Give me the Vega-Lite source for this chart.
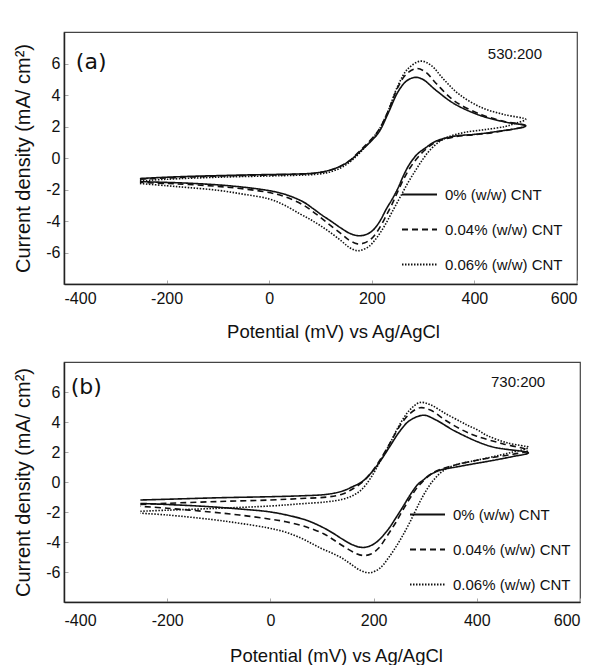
{
"$schema":"https://vega.github.io/schema/vega-lite/v6.json",
"background":"white",
"padding":{"left":13,"top":31,"right":0,"bottom":0},
"spacing":19,
"config":{
 "font":"Liberation Sans",
 "view":{"stroke":"#444","strokeWidth":1.2},
 "axis":{"grid":false,"domainColor":"#222","domainWidth":1.5,"tickColor":"#aaa","tickSize":-4,"labelFont":"Liberation Sans","labelFontSize":16,"labelColor":"#111","titleColor":"#111","titleFontWeight":"normal","titleFont":"Liberation Sans","labelOverlap":false,"labelExpr":"'' + datum.value"},
 "axisX":{"labelPadding":10,"titlePadding":16,"titleFontSize":18.5},
 "axisY":{"labelPadding":8,"titlePadding":12,"titleFontSize":20,"labelOverlap":false},
 "legend":{"symbolType":"stroke","symbolSize":1225,"symbolStrokeWidth":1.8,"symbolStrokeColor":"#111","labelFont":"Liberation Sans","labelFontSize":15,"labelColor":"#111","labelOffset":7,"rowPadding":8,"padding":0,"title":null}
},
"datasets":{
 "ann":[
  {"p":"a","t":"(a)","x":-347,"y":6.1,"k":"big"},
  {"p":"a","t":"530:200","x":479,"y":6.6,"k":"small"},
  {"p":"b","t":"(b)","x":-357,"y":6.33,"k":"big"},
  {"p":"b","t":"730:200","x":480,"y":6.67,"k":"small"}
 ],
 "cv":[
{"p":"a","s":"0% (w/w) CNT","i":1,"x":-252,"y":-1.3},
{"p":"a","s":"0% (w/w) CNT","i":2,"x":-200,"y":-1.22},
{"p":"a","s":"0% (w/w) CNT","i":3,"x":-150,"y":-1.16},
{"p":"a","s":"0% (w/w) CNT","i":4,"x":-100,"y":-1.12},
{"p":"a","s":"0% (w/w) CNT","i":5,"x":-50,"y":-1.08},
{"p":"a","s":"0% (w/w) CNT","i":6,"x":0,"y":-1.05},
{"p":"a","s":"0% (w/w) CNT","i":7,"x":50,"y":-1.02},
{"p":"a","s":"0% (w/w) CNT","i":8,"x":90,"y":-0.95},
{"p":"a","s":"0% (w/w) CNT","i":9,"x":117,"y":-0.78},
{"p":"a","s":"0% (w/w) CNT","i":10,"x":140,"y":-0.5},
{"p":"a","s":"0% (w/w) CNT","i":11,"x":160,"y":-0.1},
{"p":"a","s":"0% (w/w) CNT","i":12,"x":175,"y":0.35},
{"p":"a","s":"0% (w/w) CNT","i":13,"x":195,"y":0.95},
{"p":"a","s":"0% (w/w) CNT","i":14,"x":214,"y":1.65},
{"p":"a","s":"0% (w/w) CNT","i":15,"x":232,"y":2.85},
{"p":"a","s":"0% (w/w) CNT","i":16,"x":251,"y":4.2},
{"p":"a","s":"0% (w/w) CNT","i":17,"x":268,"y":4.9},
{"p":"a","s":"0% (w/w) CNT","i":18,"x":285,"y":5.12},
{"p":"a","s":"0% (w/w) CNT","i":19,"x":300,"y":4.98},
{"p":"a","s":"0% (w/w) CNT","i":20,"x":325,"y":4.3},
{"p":"a","s":"0% (w/w) CNT","i":21,"x":362,"y":3.42},
{"p":"a","s":"0% (w/w) CNT","i":22,"x":414,"y":2.67},
{"p":"a","s":"0% (w/w) CNT","i":23,"x":459,"y":2.29},
{"p":"a","s":"0% (w/w) CNT","i":24,"x":500,"y":2.03},
{"p":"a","s":"0% (w/w) CNT","i":25,"x":437,"y":1.65},
{"p":"a","s":"0% (w/w) CNT","i":26,"x":400,"y":1.5},
{"p":"a","s":"0% (w/w) CNT","i":27,"x":362,"y":1.39},
{"p":"a","s":"0% (w/w) CNT","i":28,"x":325,"y":1.07},
{"p":"a","s":"0% (w/w) CNT","i":29,"x":305,"y":0.65},
{"p":"a","s":"0% (w/w) CNT","i":30,"x":288,"y":0.22},
{"p":"a","s":"0% (w/w) CNT","i":31,"x":273,"y":-0.42},
{"p":"a","s":"0% (w/w) CNT","i":32,"x":262,"y":-1.1},
{"p":"a","s":"0% (w/w) CNT","i":33,"x":251,"y":-1.92},
{"p":"a","s":"0% (w/w) CNT","i":34,"x":240,"y":-2.6},
{"p":"a","s":"0% (w/w) CNT","i":35,"x":229,"y":-3.2},
{"p":"a","s":"0% (w/w) CNT","i":36,"x":214,"y":-4.1},
{"p":"a","s":"0% (w/w) CNT","i":37,"x":200,"y":-4.65},
{"p":"a","s":"0% (w/w) CNT","i":38,"x":185,"y":-4.9},
{"p":"a","s":"0% (w/w) CNT","i":39,"x":170,"y":-4.92},
{"p":"a","s":"0% (w/w) CNT","i":40,"x":155,"y":-4.75},
{"p":"a","s":"0% (w/w) CNT","i":41,"x":140,"y":-4.45},
{"p":"a","s":"0% (w/w) CNT","i":42,"x":120,"y":-4.0},
{"p":"a","s":"0% (w/w) CNT","i":43,"x":103,"y":-3.63},
{"p":"a","s":"0% (w/w) CNT","i":44,"x":85,"y":-3.2},
{"p":"a","s":"0% (w/w) CNT","i":45,"x":66,"y":-2.78},
{"p":"a","s":"0% (w/w) CNT","i":46,"x":30,"y":-2.3},
{"p":"a","s":"0% (w/w) CNT","i":47,"x":-8,"y":-2.03},
{"p":"a","s":"0% (w/w) CNT","i":48,"x":-83,"y":-1.75},
{"p":"a","s":"0% (w/w) CNT","i":49,"x":-157,"y":-1.6},
{"p":"a","s":"0% (w/w) CNT","i":50,"x":-200,"y":-1.55},
{"p":"a","s":"0% (w/w) CNT","i":51,"x":-252,"y":-1.5},
{"p":"a","s":"0.04% (w/w) CNT","i":1,"x":-252,"y":-1.35},
{"p":"a","s":"0.04% (w/w) CNT","i":2,"x":-200,"y":-1.27},
{"p":"a","s":"0.04% (w/w) CNT","i":3,"x":-100,"y":-1.15},
{"p":"a","s":"0.04% (w/w) CNT","i":4,"x":0,"y":-1.08},
{"p":"a","s":"0.04% (w/w) CNT","i":5,"x":50,"y":-1.04},
{"p":"a","s":"0.04% (w/w) CNT","i":6,"x":90,"y":-0.97},
{"p":"a","s":"0.04% (w/w) CNT","i":7,"x":117,"y":-0.8},
{"p":"a","s":"0.04% (w/w) CNT","i":8,"x":140,"y":-0.5},
{"p":"a","s":"0.04% (w/w) CNT","i":9,"x":160,"y":-0.08},
{"p":"a","s":"0.04% (w/w) CNT","i":10,"x":175,"y":0.4},
{"p":"a","s":"0.04% (w/w) CNT","i":11,"x":195,"y":1.05},
{"p":"a","s":"0.04% (w/w) CNT","i":12,"x":214,"y":1.8},
{"p":"a","s":"0.04% (w/w) CNT","i":13,"x":232,"y":3.0},
{"p":"a","s":"0.04% (w/w) CNT","i":14,"x":251,"y":4.5},
{"p":"a","s":"0.04% (w/w) CNT","i":15,"x":268,"y":5.35},
{"p":"a","s":"0.04% (w/w) CNT","i":16,"x":288,"y":5.68},
{"p":"a","s":"0.04% (w/w) CNT","i":17,"x":305,"y":5.45},
{"p":"a","s":"0.04% (w/w) CNT","i":18,"x":325,"y":4.75},
{"p":"a","s":"0.04% (w/w) CNT","i":19,"x":362,"y":3.6},
{"p":"a","s":"0.04% (w/w) CNT","i":20,"x":414,"y":2.75},
{"p":"a","s":"0.04% (w/w) CNT","i":21,"x":459,"y":2.32},
{"p":"a","s":"0.04% (w/w) CNT","i":22,"x":500,"y":2.06},
{"p":"a","s":"0.04% (w/w) CNT","i":23,"x":437,"y":1.62},
{"p":"a","s":"0.04% (w/w) CNT","i":24,"x":400,"y":1.48},
{"p":"a","s":"0.04% (w/w) CNT","i":25,"x":362,"y":1.35},
{"p":"a","s":"0.04% (w/w) CNT","i":26,"x":325,"y":1.0},
{"p":"a","s":"0.04% (w/w) CNT","i":27,"x":305,"y":0.55},
{"p":"a","s":"0.04% (w/w) CNT","i":28,"x":290,"y":0.05},
{"p":"a","s":"0.04% (w/w) CNT","i":29,"x":275,"y":-0.6},
{"p":"a","s":"0.04% (w/w) CNT","i":30,"x":262,"y":-1.35},
{"p":"a","s":"0.04% (w/w) CNT","i":31,"x":251,"y":-2.1},
{"p":"a","s":"0.04% (w/w) CNT","i":32,"x":240,"y":-2.9},
{"p":"a","s":"0.04% (w/w) CNT","i":33,"x":229,"y":-3.6},
{"p":"a","s":"0.04% (w/w) CNT","i":34,"x":214,"y":-4.5},
{"p":"a","s":"0.04% (w/w) CNT","i":35,"x":200,"y":-5.1},
{"p":"a","s":"0.04% (w/w) CNT","i":36,"x":185,"y":-5.4},
{"p":"a","s":"0.04% (w/w) CNT","i":37,"x":172,"y":-5.45},
{"p":"a","s":"0.04% (w/w) CNT","i":38,"x":155,"y":-5.2},
{"p":"a","s":"0.04% (w/w) CNT","i":39,"x":140,"y":-4.8},
{"p":"a","s":"0.04% (w/w) CNT","i":40,"x":120,"y":-4.3},
{"p":"a","s":"0.04% (w/w) CNT","i":41,"x":103,"y":-3.85},
{"p":"a","s":"0.04% (w/w) CNT","i":42,"x":85,"y":-3.4},
{"p":"a","s":"0.04% (w/w) CNT","i":43,"x":66,"y":-2.98},
{"p":"a","s":"0.04% (w/w) CNT","i":44,"x":30,"y":-2.45},
{"p":"a","s":"0.04% (w/w) CNT","i":45,"x":-8,"y":-2.15},
{"p":"a","s":"0.04% (w/w) CNT","i":46,"x":-83,"y":-1.85},
{"p":"a","s":"0.04% (w/w) CNT","i":47,"x":-157,"y":-1.68},
{"p":"a","s":"0.04% (w/w) CNT","i":48,"x":-200,"y":-1.62},
{"p":"a","s":"0.04% (w/w) CNT","i":49,"x":-252,"y":-1.55},
{"p":"a","s":"0.06% (w/w) CNT","i":1,"x":-252,"y":-1.45},
{"p":"a","s":"0.06% (w/w) CNT","i":2,"x":-200,"y":-1.35},
{"p":"a","s":"0.06% (w/w) CNT","i":3,"x":-100,"y":-1.22},
{"p":"a","s":"0.06% (w/w) CNT","i":4,"x":0,"y":-1.14},
{"p":"a","s":"0.06% (w/w) CNT","i":5,"x":50,"y":-1.1},
{"p":"a","s":"0.06% (w/w) CNT","i":6,"x":90,"y":-1.04},
{"p":"a","s":"0.06% (w/w) CNT","i":7,"x":117,"y":-0.9},
{"p":"a","s":"0.06% (w/w) CNT","i":8,"x":140,"y":-0.62},
{"p":"a","s":"0.06% (w/w) CNT","i":9,"x":160,"y":-0.18},
{"p":"a","s":"0.06% (w/w) CNT","i":10,"x":175,"y":0.28},
{"p":"a","s":"0.06% (w/w) CNT","i":11,"x":195,"y":1.0},
{"p":"a","s":"0.06% (w/w) CNT","i":12,"x":214,"y":1.8},
{"p":"a","s":"0.06% (w/w) CNT","i":13,"x":232,"y":3.0},
{"p":"a","s":"0.06% (w/w) CNT","i":14,"x":251,"y":4.6},
{"p":"a","s":"0.06% (w/w) CNT","i":15,"x":270,"y":5.65},
{"p":"a","s":"0.06% (w/w) CNT","i":16,"x":295,"y":6.15},
{"p":"a","s":"0.06% (w/w) CNT","i":17,"x":315,"y":5.9},
{"p":"a","s":"0.06% (w/w) CNT","i":18,"x":340,"y":5.0},
{"p":"a","s":"0.06% (w/w) CNT","i":19,"x":370,"y":4.05},
{"p":"a","s":"0.06% (w/w) CNT","i":20,"x":414,"y":3.2},
{"p":"a","s":"0.06% (w/w) CNT","i":21,"x":459,"y":2.75},
{"p":"a","s":"0.06% (w/w) CNT","i":22,"x":500,"y":2.45},
{"p":"a","s":"0.06% (w/w) CNT","i":23,"x":480,"y":2.2},
{"p":"a","s":"0.06% (w/w) CNT","i":24,"x":460,"y":2.0},
{"p":"a","s":"0.06% (w/w) CNT","i":25,"x":420,"y":1.8},
{"p":"a","s":"0.06% (w/w) CNT","i":26,"x":380,"y":1.62},
{"p":"a","s":"0.06% (w/w) CNT","i":27,"x":350,"y":1.35},
{"p":"a","s":"0.06% (w/w) CNT","i":28,"x":330,"y":1.0},
{"p":"a","s":"0.06% (w/w) CNT","i":29,"x":312,"y":0.45},
{"p":"a","s":"0.06% (w/w) CNT","i":30,"x":298,"y":-0.15},
{"p":"a","s":"0.06% (w/w) CNT","i":31,"x":285,"y":-0.8},
{"p":"a","s":"0.06% (w/w) CNT","i":32,"x":270,"y":-1.6},
{"p":"a","s":"0.06% (w/w) CNT","i":33,"x":255,"y":-2.5},
{"p":"a","s":"0.06% (w/w) CNT","i":34,"x":240,"y":-3.4},
{"p":"a","s":"0.06% (w/w) CNT","i":35,"x":225,"y":-4.3},
{"p":"a","s":"0.06% (w/w) CNT","i":36,"x":210,"y":-5.05},
{"p":"a","s":"0.06% (w/w) CNT","i":37,"x":195,"y":-5.6},
{"p":"a","s":"0.06% (w/w) CNT","i":38,"x":180,"y":-5.85},
{"p":"a","s":"0.06% (w/w) CNT","i":39,"x":170,"y":-5.88},
{"p":"a","s":"0.06% (w/w) CNT","i":40,"x":155,"y":-5.65},
{"p":"a","s":"0.06% (w/w) CNT","i":41,"x":140,"y":-5.25},
{"p":"a","s":"0.06% (w/w) CNT","i":42,"x":120,"y":-4.75},
{"p":"a","s":"0.06% (w/w) CNT","i":43,"x":100,"y":-4.3},
{"p":"a","s":"0.06% (w/w) CNT","i":44,"x":80,"y":-3.9},
{"p":"a","s":"0.06% (w/w) CNT","i":45,"x":60,"y":-3.55},
{"p":"a","s":"0.06% (w/w) CNT","i":46,"x":30,"y":-3.0},
{"p":"a","s":"0.06% (w/w) CNT","i":47,"x":0,"y":-2.6},
{"p":"a","s":"0.06% (w/w) CNT","i":48,"x":-50,"y":-2.3},
{"p":"a","s":"0.06% (w/w) CNT","i":49,"x":-100,"y":-2.05},
{"p":"a","s":"0.06% (w/w) CNT","i":50,"x":-157,"y":-1.88},
{"p":"a","s":"0.06% (w/w) CNT","i":51,"x":-200,"y":-1.76},
{"p":"a","s":"0.06% (w/w) CNT","i":52,"x":-252,"y":-1.62},
{"p":"b","s":"0% (w/w) CNT","i":1,"x":-252,"y":-1.2},
{"p":"b","s":"0% (w/w) CNT","i":2,"x":-200,"y":-1.15},
{"p":"b","s":"0% (w/w) CNT","i":3,"x":-100,"y":-1.05},
{"p":"b","s":"0% (w/w) CNT","i":4,"x":0,"y":-0.98},
{"p":"b","s":"0% (w/w) CNT","i":5,"x":60,"y":-0.92},
{"p":"b","s":"0% (w/w) CNT","i":6,"x":110,"y":-0.82},
{"p":"b","s":"0% (w/w) CNT","i":7,"x":140,"y":-0.6},
{"p":"b","s":"0% (w/w) CNT","i":8,"x":160,"y":-0.3},
{"p":"b","s":"0% (w/w) CNT","i":9,"x":177,"y":0.0},
{"p":"b","s":"0% (w/w) CNT","i":10,"x":195,"y":0.6},
{"p":"b","s":"0% (w/w) CNT","i":11,"x":213,"y":1.4},
{"p":"b","s":"0% (w/w) CNT","i":12,"x":232,"y":2.4},
{"p":"b","s":"0% (w/w) CNT","i":13,"x":250,"y":3.35},
{"p":"b","s":"0% (w/w) CNT","i":14,"x":270,"y":4.1},
{"p":"b","s":"0% (w/w) CNT","i":15,"x":297,"y":4.45},
{"p":"b","s":"0% (w/w) CNT","i":16,"x":320,"y":4.15},
{"p":"b","s":"0% (w/w) CNT","i":17,"x":360,"y":3.35},
{"p":"b","s":"0% (w/w) CNT","i":18,"x":426,"y":2.38},
{"p":"b","s":"0% (w/w) CNT","i":19,"x":500,"y":1.94},
{"p":"b","s":"0% (w/w) CNT","i":20,"x":470,"y":1.7},
{"p":"b","s":"0% (w/w) CNT","i":21,"x":433,"y":1.45},
{"p":"b","s":"0% (w/w) CNT","i":22,"x":400,"y":1.25},
{"p":"b","s":"0% (w/w) CNT","i":23,"x":360,"y":1.0},
{"p":"b","s":"0% (w/w) CNT","i":24,"x":330,"y":0.8},
{"p":"b","s":"0% (w/w) CNT","i":25,"x":308,"y":0.45},
{"p":"b","s":"0% (w/w) CNT","i":26,"x":295,"y":0.1},
{"p":"b","s":"0% (w/w) CNT","i":27,"x":286,"y":-0.15},
{"p":"b","s":"0% (w/w) CNT","i":28,"x":272,"y":-0.8},
{"p":"b","s":"0% (w/w) CNT","i":29,"x":257,"y":-1.64},
{"p":"b","s":"0% (w/w) CNT","i":30,"x":243,"y":-2.4},
{"p":"b","s":"0% (w/w) CNT","i":31,"x":228,"y":-3.17},
{"p":"b","s":"0% (w/w) CNT","i":32,"x":206,"y":-4.0},
{"p":"b","s":"0% (w/w) CNT","i":33,"x":190,"y":-4.3},
{"p":"b","s":"0% (w/w) CNT","i":34,"x":177,"y":-4.36},
{"p":"b","s":"0% (w/w) CNT","i":35,"x":160,"y":-4.2},
{"p":"b","s":"0% (w/w) CNT","i":36,"x":140,"y":-3.82},
{"p":"b","s":"0% (w/w) CNT","i":37,"x":120,"y":-3.38},
{"p":"b","s":"0% (w/w) CNT","i":38,"x":100,"y":-3.0},
{"p":"b","s":"0% (w/w) CNT","i":39,"x":70,"y":-2.55},
{"p":"b","s":"0% (w/w) CNT","i":40,"x":30,"y":-2.19},
{"p":"b","s":"0% (w/w) CNT","i":41,"x":-6,"y":-1.97},
{"p":"b","s":"0% (w/w) CNT","i":42,"x":-60,"y":-1.8},
{"p":"b","s":"0% (w/w) CNT","i":43,"x":-116,"y":-1.65},
{"p":"b","s":"0% (w/w) CNT","i":44,"x":-200,"y":-1.5},
{"p":"b","s":"0% (w/w) CNT","i":45,"x":-252,"y":-1.43},
{"p":"b","s":"0.04% (w/w) CNT","i":1,"x":-252,"y":-1.5},
{"p":"b","s":"0.04% (w/w) CNT","i":2,"x":-200,"y":-1.42},
{"p":"b","s":"0.04% (w/w) CNT","i":3,"x":-100,"y":-1.3},
{"p":"b","s":"0.04% (w/w) CNT","i":4,"x":0,"y":-1.2},
{"p":"b","s":"0.04% (w/w) CNT","i":5,"x":60,"y":-1.1},
{"p":"b","s":"0.04% (w/w) CNT","i":6,"x":110,"y":-1.0},
{"p":"b","s":"0.04% (w/w) CNT","i":7,"x":140,"y":-0.8},
{"p":"b","s":"0.04% (w/w) CNT","i":8,"x":160,"y":-0.45},
{"p":"b","s":"0.04% (w/w) CNT","i":9,"x":177,"y":-0.05},
{"p":"b","s":"0.04% (w/w) CNT","i":10,"x":195,"y":0.6},
{"p":"b","s":"0.04% (w/w) CNT","i":11,"x":213,"y":1.5},
{"p":"b","s":"0.04% (w/w) CNT","i":12,"x":232,"y":2.6},
{"p":"b","s":"0.04% (w/w) CNT","i":13,"x":250,"y":3.7},
{"p":"b","s":"0.04% (w/w) CNT","i":14,"x":270,"y":4.55},
{"p":"b","s":"0.04% (w/w) CNT","i":15,"x":290,"y":4.95},
{"p":"b","s":"0.04% (w/w) CNT","i":16,"x":310,"y":4.8},
{"p":"b","s":"0.04% (w/w) CNT","i":17,"x":340,"y":4.1},
{"p":"b","s":"0.04% (w/w) CNT","i":18,"x":370,"y":3.5},
{"p":"b","s":"0.04% (w/w) CNT","i":19,"x":400,"y":3.05},
{"p":"b","s":"0.04% (w/w) CNT","i":20,"x":450,"y":2.55},
{"p":"b","s":"0.04% (w/w) CNT","i":21,"x":500,"y":2.1},
{"p":"b","s":"0.04% (w/w) CNT","i":22,"x":470,"y":1.85},
{"p":"b","s":"0.04% (w/w) CNT","i":23,"x":433,"y":1.65},
{"p":"b","s":"0.04% (w/w) CNT","i":24,"x":400,"y":1.45},
{"p":"b","s":"0.04% (w/w) CNT","i":25,"x":360,"y":1.15},
{"p":"b","s":"0.04% (w/w) CNT","i":26,"x":330,"y":0.85},
{"p":"b","s":"0.04% (w/w) CNT","i":27,"x":310,"y":0.5},
{"p":"b","s":"0.04% (w/w) CNT","i":28,"x":296,"y":0.05},
{"p":"b","s":"0.04% (w/w) CNT","i":29,"x":286,"y":-0.3},
{"p":"b","s":"0.04% (w/w) CNT","i":30,"x":272,"y":-1.0},
{"p":"b","s":"0.04% (w/w) CNT","i":31,"x":257,"y":-1.85},
{"p":"b","s":"0.04% (w/w) CNT","i":32,"x":243,"y":-2.7},
{"p":"b","s":"0.04% (w/w) CNT","i":33,"x":228,"y":-3.5},
{"p":"b","s":"0.04% (w/w) CNT","i":34,"x":210,"y":-4.4},
{"p":"b","s":"0.04% (w/w) CNT","i":35,"x":195,"y":-4.8},
{"p":"b","s":"0.04% (w/w) CNT","i":36,"x":180,"y":-4.9},
{"p":"b","s":"0.04% (w/w) CNT","i":37,"x":165,"y":-4.75},
{"p":"b","s":"0.04% (w/w) CNT","i":38,"x":140,"y":-4.25},
{"p":"b","s":"0.04% (w/w) CNT","i":39,"x":120,"y":-3.8},
{"p":"b","s":"0.04% (w/w) CNT","i":40,"x":103,"y":-3.45},
{"p":"b","s":"0.04% (w/w) CNT","i":41,"x":70,"y":-3.0},
{"p":"b","s":"0.04% (w/w) CNT","i":42,"x":30,"y":-2.65},
{"p":"b","s":"0.04% (w/w) CNT","i":43,"x":-6,"y":-2.45},
{"p":"b","s":"0.04% (w/w) CNT","i":44,"x":-60,"y":-2.2},
{"p":"b","s":"0.04% (w/w) CNT","i":45,"x":-116,"y":-2.0},
{"p":"b","s":"0.04% (w/w) CNT","i":46,"x":-200,"y":-1.75},
{"p":"b","s":"0.04% (w/w) CNT","i":47,"x":-252,"y":-1.62},
{"p":"b","s":"0.06% (w/w) CNT","i":1,"x":-252,"y":-1.95},
{"p":"b","s":"0.06% (w/w) CNT","i":2,"x":-200,"y":-1.88},
{"p":"b","s":"0.06% (w/w) CNT","i":3,"x":-100,"y":-1.75},
{"p":"b","s":"0.06% (w/w) CNT","i":4,"x":0,"y":-1.6},
{"p":"b","s":"0.06% (w/w) CNT","i":5,"x":60,"y":-1.45},
{"p":"b","s":"0.06% (w/w) CNT","i":6,"x":110,"y":-1.32},
{"p":"b","s":"0.06% (w/w) CNT","i":7,"x":140,"y":-1.15},
{"p":"b","s":"0.06% (w/w) CNT","i":8,"x":160,"y":-0.9},
{"p":"b","s":"0.06% (w/w) CNT","i":9,"x":177,"y":-0.5},
{"p":"b","s":"0.06% (w/w) CNT","i":10,"x":195,"y":0.3},
{"p":"b","s":"0.06% (w/w) CNT","i":11,"x":213,"y":1.4},
{"p":"b","s":"0.06% (w/w) CNT","i":12,"x":232,"y":2.6},
{"p":"b","s":"0.06% (w/w) CNT","i":13,"x":250,"y":3.8},
{"p":"b","s":"0.06% (w/w) CNT","i":14,"x":270,"y":4.8},
{"p":"b","s":"0.06% (w/w) CNT","i":15,"x":290,"y":5.3},
{"p":"b","s":"0.06% (w/w) CNT","i":16,"x":310,"y":5.15},
{"p":"b","s":"0.06% (w/w) CNT","i":17,"x":340,"y":4.55},
{"p":"b","s":"0.06% (w/w) CNT","i":18,"x":370,"y":4.0},
{"p":"b","s":"0.06% (w/w) CNT","i":19,"x":384,"y":3.75},
{"p":"b","s":"0.06% (w/w) CNT","i":20,"x":400,"y":3.5},
{"p":"b","s":"0.06% (w/w) CNT","i":21,"x":420,"y":3.1},
{"p":"b","s":"0.06% (w/w) CNT","i":22,"x":460,"y":2.6},
{"p":"b","s":"0.06% (w/w) CNT","i":23,"x":500,"y":2.3},
{"p":"b","s":"0.06% (w/w) CNT","i":24,"x":470,"y":2.0},
{"p":"b","s":"0.06% (w/w) CNT","i":25,"x":433,"y":1.7},
{"p":"b","s":"0.06% (w/w) CNT","i":26,"x":400,"y":1.45},
{"p":"b","s":"0.06% (w/w) CNT","i":27,"x":360,"y":1.15},
{"p":"b","s":"0.06% (w/w) CNT","i":28,"x":335,"y":0.75},
{"p":"b","s":"0.06% (w/w) CNT","i":29,"x":318,"y":0.2},
{"p":"b","s":"0.06% (w/w) CNT","i":30,"x":305,"y":-0.4},
{"p":"b","s":"0.06% (w/w) CNT","i":31,"x":290,"y":-1.3},
{"p":"b","s":"0.06% (w/w) CNT","i":32,"x":270,"y":-2.7},
{"p":"b","s":"0.06% (w/w) CNT","i":33,"x":250,"y":-3.95},
{"p":"b","s":"0.06% (w/w) CNT","i":34,"x":230,"y":-5.0},
{"p":"b","s":"0.06% (w/w) CNT","i":35,"x":212,"y":-5.75},
{"p":"b","s":"0.06% (w/w) CNT","i":36,"x":193,"y":-6.05},
{"p":"b","s":"0.06% (w/w) CNT","i":37,"x":175,"y":-5.9},
{"p":"b","s":"0.06% (w/w) CNT","i":38,"x":155,"y":-5.45},
{"p":"b","s":"0.06% (w/w) CNT","i":39,"x":140,"y":-5.1},
{"p":"b","s":"0.06% (w/w) CNT","i":40,"x":120,"y":-4.75},
{"p":"b","s":"0.06% (w/w) CNT","i":41,"x":100,"y":-4.45},
{"p":"b","s":"0.06% (w/w) CNT","i":42,"x":80,"y":-4.1},
{"p":"b","s":"0.06% (w/w) CNT","i":43,"x":60,"y":-3.75},
{"p":"b","s":"0.06% (w/w) CNT","i":44,"x":30,"y":-3.35},
{"p":"b","s":"0.06% (w/w) CNT","i":45,"x":-6,"y":-3.05},
{"p":"b","s":"0.06% (w/w) CNT","i":46,"x":-60,"y":-2.75},
{"p":"b","s":"0.06% (w/w) CNT","i":47,"x":-114,"y":-2.5},
{"p":"b","s":"0.06% (w/w) CNT","i":48,"x":-200,"y":-2.2},
{"p":"b","s":"0.06% (w/w) CNT","i":49,"x":-252,"y":-2.08}
 ]
},
"vconcat":[
 {
  "width":513,"height":252,
  "layer":[
   {
    "data":{"name":"cv"},
    "transform":[{"filter":"datum.p == 'a'"}],
    "mark":{"type":"line","interpolate":"catmull-rom","color":"#111","strokeWidth":1.6},
    "encoding":{
     "x":{"field":"x","type":"quantitative","scale":{"domain":[-400,600],"nice":false},"axis":{"values":[-400,-200,0,200,400,600],"tickCount":10,"title":"Potential (mV) vs Ag/AgCl","titleX":269}},
     "y":{"field":"y","type":"quantitative","scale":{"domain":[-8,8],"nice":false},"axis":{"values":[-6,-4,-2,0,2,4,6],"tickCount":10,"title":"Current density (mA/ cm²)","labelOverlap":false}},
     "order":{"field":"i","type":"quantitative"},
     "strokeDash":{"field":"s","type":"nominal","scale":{"domain":["0% (w/w) CNT","0.04% (w/w) CNT","0.06% (w/w) CNT"],"range":[[1,0],[6,4],[1.5,1.5]]},"legend":{"orient":"none","legendX":337,"legendY":144}}
    }
   },
   {
    "data":{"name":"ann"},
    "transform":[{"filter":"datum.p == 'a' && datum.k == 'big'"}],
    "mark":{"type":"text","font":"DejaVu Sans","fontSize":22,"color":"#111"},
    "encoding":{"x":{"field":"x","type":"quantitative"},"y":{"field":"y","type":"quantitative"},"text":{"field":"t"}}
   },
   {
    "data":{"name":"ann"},
    "transform":[{"filter":"datum.p == 'a' && datum.k == 'small'"}],
    "mark":{"type":"text","font":"Liberation Sans","fontSize":15,"color":"#111"},
    "encoding":{"x":{"field":"x","type":"quantitative"},"y":{"field":"y","type":"quantitative"},"text":{"field":"t"}}
   }
  ]
 },
 {
  "width":516,"height":240,
  "layer":[
   {
    "data":{"name":"cv"},
    "transform":[{"filter":"datum.p == 'b'"}],
    "mark":{"type":"line","interpolate":"catmull-rom","color":"#111","strokeWidth":1.6},
    "encoding":{
     "x":{"field":"x","type":"quantitative","scale":{"domain":[-400,600],"nice":false},"axis":{"values":[-400,-200,0,200,400,600],"tickCount":10,"title":"Potential (mV) vs Ag/AgCl","titleX":272,"labelPadding":14,"titlePadding":18}},
     "y":{"field":"y","type":"quantitative","scale":{"domain":[-8,8],"nice":false},"axis":{"values":[-6,-4,-2,0,2,4,6],"tickCount":10,"title":"Current density (mA/ cm²)","labelOverlap":false}},
     "order":{"field":"i","type":"quantitative"},
     "strokeDash":{"field":"s","type":"nominal","scale":{"domain":["0% (w/w) CNT","0.04% (w/w) CNT","0.06% (w/w) CNT"],"range":[[1,0],[6,4],[1.5,1.5]]},"legend":{"orient":"none","legendX":345,"legendY":134}}
    }
   },
   {
    "data":{"name":"ann"},
    "transform":[{"filter":"datum.p == 'b' && datum.k == 'big'"}],
    "mark":{"type":"text","font":"DejaVu Sans","fontSize":22,"color":"#111"},
    "encoding":{"x":{"field":"x","type":"quantitative"},"y":{"field":"y","type":"quantitative"},"text":{"field":"t"}}
   },
   {
    "data":{"name":"ann"},
    "transform":[{"filter":"datum.p == 'b' && datum.k == 'small'"}],
    "mark":{"type":"text","font":"Liberation Sans","fontSize":15,"color":"#111"},
    "encoding":{"x":{"field":"x","type":"quantitative"},"y":{"field":"y","type":"quantitative"},"text":{"field":"t"}}
   }
  ],
  "resolve":{"scale":{"strokeDash":"independent"},"legend":{"strokeDash":"independent"}}
 }
],
"resolve":{"scale":{"strokeDash":"independent","x":"independent","y":"independent"},"legend":{"strokeDash":"independent"}}
}
